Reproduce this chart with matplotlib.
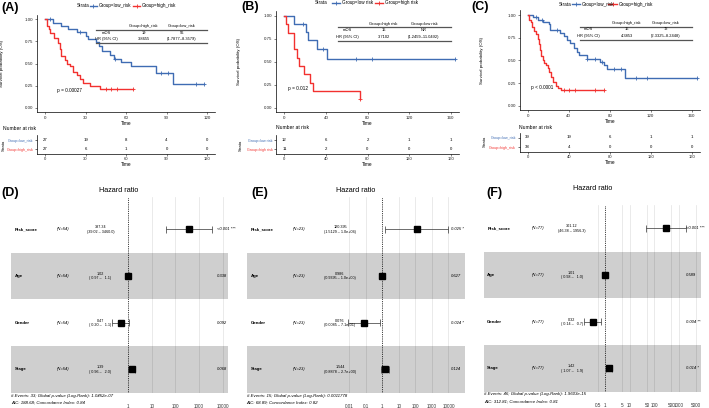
import matplotlib
matplotlib.use('Agg')
import matplotlib.pyplot as plt
from matplotlib.lines import Line2D
import matplotlib.transforms as mtrans
import numpy as np

plt.rcParams['font.family'] = ['Liberation Sans', 'DejaVu Sans']

# ---------------- DATA ----------------
# Panel A (KM)
A_low_t = [0, 6, 12, 17, 24, 30, 32, 38, 40, 42, 48, 51, 56, 64, 82, 95, 118]
A_low_s = [1.0, 0.963, 0.926, 0.889, 0.852, 0.815, 0.778, 0.741, 0.700, 0.642, 0.600, 0.555, 0.518, 0.478, 0.398, 0.27, 0.27]
A_low_c = [4, 26, 52, 86, 91, 112, 118]
A_high_t = [0, 1.5, 3, 4, 7, 9.5, 11, 12, 14.5, 16, 18.5, 21, 23.5, 26, 28.5, 33, 40.5, 65]
A_high_s = [1.0, 0.93, 0.89, 0.85, 0.79, 0.73, 0.67, 0.59, 0.54, 0.50, 0.47, 0.41, 0.37, 0.33, 0.28, 0.25, 0.21, 0.21]
A_high_c = [45, 49, 53, 65]
A_risk_times = [0, 30, 60, 90, 120]
A_risk_low = [27, 19, 8, 4, 0]
A_risk_high = [27, 6, 1, 0, 0]
A_groups = ['Group=low_risk', 'Group=high_risk']
A_tab_head = ['Group=high_risk', 'Group=low_risk']
A_tab_mos = ['19', '56']
A_tab_hr = ['3.8655', '(1.7877–8.3579)']
A_pval = 'p = 0.00027'

# Panel B (KM)
B_low_t = [0, 9.5, 21, 23, 31, 41.5, 164]
B_low_s = [1.0, 0.917, 0.83, 0.733, 0.642, 0.535, 0.535]
B_low_c = [18, 37, 69, 84, 164]
B_high_t = [0, 1.5, 4, 9.5, 12, 14, 19, 25, 28, 72.5]
B_high_s = [1.0, 0.909, 0.818, 0.636, 0.545, 0.455, 0.364, 0.273, 0.182, 0.091]
B_high_c = [72.5]
B_risk_times = [0, 40, 80, 120, 160]
B_risk_low = [12, 6, 2, 1, 1]
B_risk_high = [11, 2, 0, 0, 0]
B_groups = ['Group=low risk', 'Group=high risk']
B_tab_head = ['Group=high risk', 'Group=low risk']
B_tab_mos = ['15', 'NR']
B_tab_hr = ['3.7102', '(1.2459–11.0492)']
B_pval = 'p = 0.012'

# Panel C (KM)
C_low_t = [0, 5.5, 10, 15, 21, 22, 31.5, 35, 38.5, 41.5, 45, 48, 50, 57.5, 70.5, 74, 77, 95, 165]
C_low_s = [1.0, 0.974, 0.948, 0.922, 0.896, 0.83, 0.80, 0.77, 0.72, 0.69, 0.64, 0.59, 0.56, 0.52, 0.485, 0.45, 0.41, 0.31, 0.31]
C_low_c = [8, 14, 29, 58, 66, 72, 84, 91, 106, 116, 165]
C_high_t = [0, 1.6, 2.9, 4.2, 6.2, 7.8, 9.8, 10.7, 12, 13, 14.6, 16.3, 17.9, 19.5, 20.8, 22.8, 25, 27.6, 29.9, 32.2, 74]
C_high_s = [1.0, 0.95, 0.92, 0.87, 0.82, 0.79, 0.74, 0.68, 0.61, 0.55, 0.50, 0.47, 0.45, 0.42, 0.37, 0.32, 0.26, 0.22, 0.20, 0.17, 0.17]
C_high_c = [35, 40, 46, 66, 74]
C_risk_times = [0, 40, 80, 120, 160]
C_risk_low = [39, 19, 6, 1, 1]
C_risk_high = [38, 4, 0, 0, 0]
C_groups = ['Group=low_risk', 'Group=high_risk']
C_tab_head = ['Group=high_risk', 'Group=low_risk']
C_tab_mos = ['15', '72']
C_tab_hr = ['4.3853', '(2.3325–8.2448)']
C_pval = 'p < 0.0001'

# Forest plots
F_vars = ['Risk_score', 'Age', 'Gender', 'Stage']

D_N = ['(N=54)'] * 4
D_hr = [387.34, 1.02, 0.47, 1.39]
D_lo = [39.02, 0.97, 0.20, 0.96]
D_hi = [3460.0, 1.1, 1.1, 2.0]
D_hr_txt = ['387.34', '1.02', '0.47', '1.39']
D_ci_txt = ['(39.02 – 3460.0)', '( 0.97 –   1.1)', '( 0.20 –   1.1)', '( 0.96 –   2.0)']
D_p = ['<0.001 ***', '0.338', '0.092', '0.068']
D_foot = ['# Events: 33; Global p-value (Log-Rank): 1.0452e-07', 'AIC: 188.68; Concordance Index: 0.84']
D_ticks = [1, 10, 100, 1000, 10000]

E_N = ['(N=23)'] * 4
E_hr = [120.395, 0.986, 0.076, 1.544]
E_lo = [1.5129, 0.9395, 0.0085, 0.8878]
E_hi = [1.0e4, 1.0, 0.71, 2.7]
E_hr_txt = ['120.395', '0.986', '0.076', '1.544']
E_ci_txt = ['(1.5129 – 1.0e+04)', '(0.9395 – 1.0e+00)', '(0.0085 – 7.1e-01)', '(0.8878 – 2.7e+00)']
E_p = ['0.025 *', '0.627', '0.024 *', '0.124']
E_foot = ['# Events: 15; Global p-value (Log-Rank): 0.0011778', 'AIC: 68.89; Concordance Index: 0.82']
E_ticks = [0.01, 0.1, 1, 10, 100, 1000, 10000]

G_N = ['(N=77)'] * 4
G_hr = [301.12, 1.01, 0.32, 1.42]
G_lo = [46.38, 0.98, 0.14, 1.07]
G_hi = [1956.3, 1.04, 0.70, 1.9]
G_hr_txt = ['301.12', '1.01', '0.32', '1.42']
G_ci_txt = ['(46.38 – 1956.3)', '( 0.98 –   1.0)', '( 0.14 –   0.7)', '( 1.07 –   1.9)']
G_p = ['<0.001 ***', '0.589', '0.004 **', '0.014 *']
G_foot = ['# Events: 46; Global p-value (Log-Rank): 1.9603e-15', 'AIC: 312.81; Concordance Index: 0.81']
G_ticks = [0.5, 1, 5, 10, 50, 100, 500, 1000, 5000]

# ---------------- LAYOUT HELPERS ----------------
W, H = 709, 408
BLUE = '#3F6CB3'
RED = '#F2312F'
fig = plt.figure(figsize=(W / 100, H / 100), dpi=100)
fig.patch.set_facecolor('white')


def add_ax(x0, y0, x1, y1):
    return fig.add_axes([x0 / W, 1 - y1 / H, (x1 - x0) / W, (y1 - y0) / H])


def txt(x, y, s, **kw):
    kw.setdefault('va', 'center')
    fig.text(x / W, 1 - y / H, s, **kw)


def fline(x0, x1, y0, y1, **kw):
    fig.add_artist(Line2D([x0 / W, x1 / W], [1 - y0 / H, 1 - y1 / H], transform=fig.transFigure, **kw))


def surv_at(ts, ss, t):
    i = np.searchsorted(ts, t, side='right') - 1
    return ss[i]


def km_panel(cfg, low_t, low_s, low_c, high_t, high_s, high_c, rt, rlow, rhigh, groups,
             head, mos, hrv, pval):
    ax = add_ax(*cfg['km'])
    ax.set_xlim(cfg['xlim'])
    ax.set_ylim(-0.05, 1.05)
    for t, s, c, col in ((low_t, low_s, low_c, BLUE), (high_t, high_s, high_c, RED)):
        ax.step(t, s, where='post', color=col, lw=1.0)
        cy = [surv_at(t, s, v) for v in c]
        ax.plot(c, cy, '+', color=col, ms=3.0, mew=0.6, clip_on=False)
    ax.set_xticks(rt)
    ax.set_yticks([0, 0.25, 0.5, 0.75, 1.0])
    ax.set_yticklabels(['0.00', '0.25', '0.50', '0.75', '1.00'])
    for sp in ('top', 'right'):
        ax.spines[sp].set_visible(False)
    for sp in ('left', 'bottom'):
        ax.spines[sp].set_linewidth(0.5)
    ax.tick_params(labelsize=3.2, length=1.5, width=0.4, pad=1.2, colors='#222222')
    ax.set_xlabel('Time', fontsize=3.4, labelpad=0.5)
    ax.set_ylabel('Survival probability (OS)', fontsize=3.2, labelpad=2)
    ax.yaxis.set_label_coords(cfg['ylab_x'], 0.5, transform=mtrans.blended_transform_factory(fig.transFigure, ax.transAxes))
    ax.text(cfg['p_xy'][0], cfg['p_xy'][1], pval, fontsize=3.4, va='center', ha='left')

    # legend at top
    ly = cfg['leg_y']
    txt(cfg['leg'][0], ly, 'Strata', fontsize=3.3, ha='left')
    for (x0, x1, tx), lab, col in zip(cfg['leg'][1:], groups, (BLUE, RED)):
        fline(x0, x1, ly, ly, color=col, lw=1.0)
        fig.add_artist(Line2D([(x0 + x1) / 2 / W], [1 - ly / H], marker='+', ms=3, mew=0.6,
                              color=col, transform=fig.transFigure))
        txt(tx, ly, lab, fontsize=3.3, ha='left')

    # inner table
    tb = cfg['tab']
    fline(tb['x0'], tb['x1'], tb['top'], tb['top'], color='#555555', lw=0.9)
    fline(tb['x0'], tb['x1'], tb['bot'], tb['bot'], color='#555555', lw=0.9)
    cx = tb['cols']
    txt(cx[1], tb['hy'], head[0], fontsize=2.9, ha='center')
    txt(cx[2], tb['hy'], head[1], fontsize=2.9, ha='center')
    txt(cx[0], tb['r1'], 'mOS', fontsize=2.9, ha='center')
    txt(cx[1], tb['r1'], mos[0], fontsize=2.9, ha='center')
    txt(cx[2], tb['r1'], mos[1], fontsize=2.9, ha='center')
    txt(cx[0], tb['r2'], 'HR (95% CI)', fontsize=2.9, ha='center')
    txt(cx[1], tb['r2'], hrv[0], fontsize=2.9, ha='center')
    txt(cx[2], tb['r2'], hrv[1], fontsize=2.9, ha='center')

    # number at risk
    txt(cfg['nar'][0], cfg['nar'][1], 'Number at risk', fontsize=3.6, ha='left')
    rax = add_ax(*cfg['risk'])
    rax.set_xlim(cfg['xlim'])
    rax.set_ylim(0.5, 2.5)
    for t, a, b in zip(rt, rlow, rhigh):
        rax.text(t, 2, str(a), ha='center', va='center', fontsize=3.1)
        rax.text(t, 1, str(b), ha='center', va='center', fontsize=3.1)
    rax.set_xticks(rt)
    rax.set_yticks([2, 1])
    rax.set_yticklabels(groups)
    for lab, col in zip(rax.get_yticklabels(), (BLUE, RED)):
        lab.set_color(col)
    for sp in ('top', 'right'):
        rax.spines[sp].set_visible(False)
    for sp in ('left', 'bottom'):
        rax.spines[sp].set_linewidth(0.5)
    rax.tick_params(axis='y', labelsize=2.6, length=1.5, width=0.4, pad=1.0)
    rax.tick_params(axis='x', labelsize=3.0, length=1.5, width=0.4, pad=1.0, colors='#222222')
    rax.set_xlabel('Time', fontsize=3.4, labelpad=0.5)
    txt(cfg['strata'][0], cfg['strata'][1], 'Strata', fontsize=3.0, rotation=90, ha='center')


def forest_panel(cfg, N, hr, lo, hi, hr_txt, ci_txt, pv, foot, ticks):
    ax = add_ax(*cfg['box'])
    ax.set_xlim(cfg['xlim'])
    ax.set_ylim(0.5, cfg['ytop'])
    rows = [4, 3, 2, 1]
    for tk in ticks:
        if tk != 1:
            ax.axvline(np.log10(tk), color='#E2E2E2', lw=0.5, zorder=0)
    for r in (3, 1):
        ax.axhspan(r - 0.5, r + 0.5, color='black', alpha=0.19, lw=0, zorder=1)
    ax.axvline(0, color='black', ls=(0, (1, 1.2)), lw=0.6, zorder=2)
    bt = mtrans.blended_transform_factory(fig.transFigure, ax.transData)
    for r, v, h, l, u, ht, ct, p, n in zip(rows, F_vars, hr, lo, hi, hr_txt, ci_txt, pv, N):
        ll, lu = np.log10(l), np.log10(u)
        ax.hlines(r, ll, lu, color='#333333', lw=0.5, zorder=3)
        ax.vlines([ll, lu], r - 0.075, r + 0.075, color='#333333', lw=0.5, zorder=3)
        ax.plot(np.log10(h), r, 's', ms=4.4, color='black', zorder=4)
        ax.text(cfg['xlab'] / W, r, v, transform=bt, fontsize=3.2, fontweight='bold', ha='left', va='center')
        ax.text(cfg['xn'] / W, r, n, transform=bt, fontsize=3.0, style='italic', ha='left', va='center')
        ax.text(cfg['xhr'] / W, r + 0.045, ht, transform=bt, fontsize=2.7, ha='center', va='center')
        ax.text(cfg['xhr'] / W, r - 0.05, ct, transform=bt, fontsize=2.7, ha='center', va='center')
        ax.text(cfg['xp'] / W, r, p, transform=bt, fontsize=3.0, style='italic', ha='left', va='center')
    ax.set_xticks([np.log10(t) for t in ticks])
    ax.set_xticklabels([('%g' % t) for t in ticks])
    ax.set_yticks([])
    ax.tick_params(axis='x', length=0, labelsize=3.3, pad=7.8, colors='#333333')
    for sp in ax.spines.values():
        sp.set_visible(False)
    txt(cfg['box'][0], cfg['foot_y'][0], foot[0], fontsize=3.2, style='italic', ha='left')
    txt(cfg['box'][0], cfg['foot_y'][1], foot[1], fontsize=3.2, style='italic', ha='left')
    txt(cfg['title'][0], cfg['title'][1], 'Hazard ratio', fontsize=5.2, ha='center')


# ---------------- PANELS ----------------
cfgA = dict(km=(36.9, 14.9, 215.1, 112.4), xlim=(-6, 126), ylab_x=4 / W, p_xy=(9, 0.2),
            leg_y=5.7, leg=(77, (90, 96.7, 98.3), (133.3, 140, 141.7)),
            tab=dict(x0=96, x1=207, top=30, bot=43.3, hy=26, r1=33.3, r2=39.3, cols=(106.7, 143.5, 181.7)),
            nar=(3.3, 128.3), risk=(36.9, 135.35, 215.1, 154), strata=(3.5, 145))
cfgB = dict(km=(276, 11.4, 459, 112.3), xlim=(-8, 168), ylab_x=241 / W, p_xy=(3.5, 0.205),
            leg_y=2.8, leg=(315, (331.7, 340, 341.5), (375, 383.3, 384.5)),
            tab=dict(x0=337.7, x1=451, top=27.3, bot=41, hy=24, r1=30, r2=36.7, cols=(347, 383.5, 424)),
            nar=(275.7, 127.7), risk=(276, 135.35, 459, 154), strata=(240.5, 145))
cfgC = dict(km=(519.5, 10.5, 699.9, 110.2), xlim=(-8, 168), ylab_x=484 / W, p_xy=(3, 0.195),
            leg_y=4.2, leg=(558.3, (571.7, 580, 581.7), (608.3, 616.7, 618.3)),
            tab=dict(x0=580, x1=691.7, top=26.7, bot=40, hy=22.7, r1=29.3, r2=36, cols=(588.3, 626.7, 666)),
            nar=(519, 127.3), risk=(519.5, 132.75, 699.9, 151.75), strata=(484.5, 141.7))

km_panel(cfgA, A_low_t, A_low_s, A_low_c, A_high_t, A_high_s, A_high_c,
         A_risk_times, A_risk_low, A_risk_high, A_groups, A_tab_head, A_tab_mos, A_tab_hr, A_pval)
km_panel(cfgB, B_low_t, B_low_s, B_low_c, B_high_t, B_high_s, B_high_c,
         B_risk_times, B_risk_low, B_risk_high, B_groups, B_tab_head, B_tab_mos, B_tab_hr, B_pval)
km_panel(cfgC, C_low_t, C_low_s, C_low_c, C_high_t, C_high_s, C_high_c,
         C_risk_times, C_risk_low, C_risk_high, C_groups, C_tab_head, C_tab_mos, C_tab_hr, C_pval)

cfgD = dict(box=(11, 197, 228.3, 392.7), xlim=(-4.97, 4.24), ytop=4.69, xlab=15, xn=57.3, xhr=100.5,
            xp=216.7, foot_y=(395.7, 402.3), title=(119, 190))
cfgE = dict(box=(246.7, 197, 465, 392.7), xlim=(-8.19, 5.0), ytop=4.69, xlab=251, xn=293.3, xhr=340,
            xp=451, foot_y=(395.7, 402.3), title=(356, 190))
cfgF = dict(box=(484, 205, 701, 391.7), xlim=(-4.92, 3.90), ytop=4.5, xlab=487.3, xn=531.7, xhr=571.7,
            xp=686, foot_y=(394.3, 401.7), title=(593, 189))

forest_panel(cfgD, D_N, D_hr, D_lo, D_hi, D_hr_txt, D_ci_txt, D_p, D_foot, D_ticks)
forest_panel(cfgE, E_N, E_hr, E_lo, E_hi, E_hr_txt, E_ci_txt, E_p, E_foot, E_ticks)
forest_panel(cfgF, G_N, G_hr, G_lo, G_hi, G_hr_txt, G_ci_txt, G_p, G_foot, G_ticks)

# panel letters
for lab, x, y in (('(A)', 1.7, 7.5), ('(B)', 241.7, 7.2), ('(C)', 471.7, 7.2),
                  ('(D)', 1.7, 193.3), ('(E)', 251.7, 193), ('(F)', 486.7, 193)):
    txt(x, y, lab, fontsize=9, fontweight='bold', ha='left')

fig.savefig('out.png', dpi=100)
